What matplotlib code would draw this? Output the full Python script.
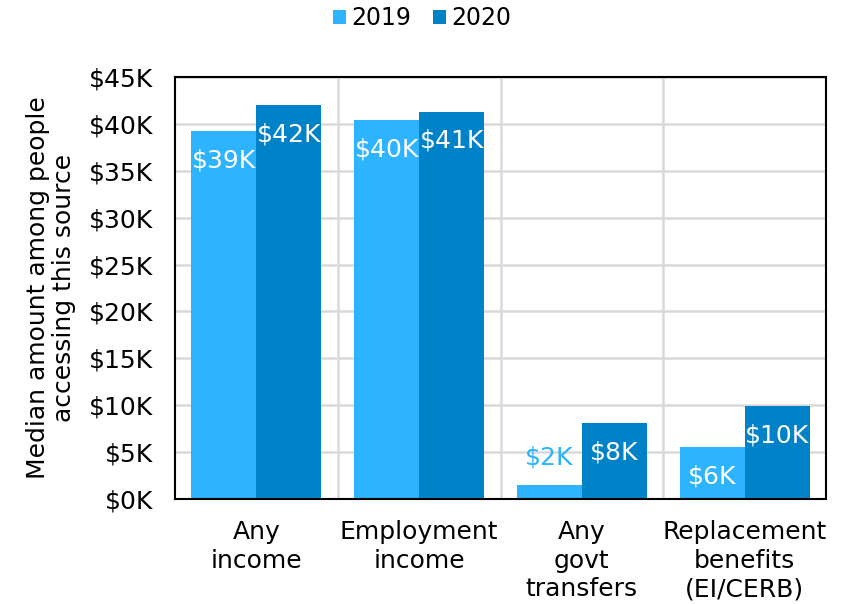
import matplotlib
matplotlib.use("Agg")
import matplotlib.pyplot as plt
import numpy as np
from matplotlib.ticker import FuncFormatter, FixedLocator

categories = ["Any\nincome", "Employment\nincome", "Any\ngovt\ntransfers", "Replacement\nbenefits\n(EI/CERB)"]
series_names = ["2019", "2020"]
values_2019 = [39.2, 40.4, 1.5, 5.5]
values_2020 = [42.0, 41.3, 8.1, 9.9]
labels_2019 = ["$39K", "$40K", "$2K", "$6K"]
labels_2020 = ["$42K", "$41K", "$8K", "$10K"]
y_ticks = [0, 5, 10, 15, 20, 25, 30, 35, 40, 45]

c19 = "#2DB3FF"
c20 = "#0082C8"
FS = 18

plt.rcParams['font.family'] = ['DejaVu Sans']

fig = plt.figure(figsize=(8.44, 6.04), dpi=100)
ax = fig.add_axes([175/844, 1 - 499/604, (826-175)/844, (499-77)/604])

x = np.arange(len(categories))
w = 0.4
b1 = ax.bar(x - w/2, values_2019, w, color=c19, label=series_names[0], zorder=3)
b2 = ax.bar(x + w/2, values_2020, w, color=c20, label=series_names[1], zorder=3)

for bars, labs, col in [(b1, labels_2019, c19), (b2, labels_2020, c20)]:
    for r, lab in zip(bars, labs):
        h = r.get_height()
        cx = r.get_x() + r.get_width()/2
        if h < 3:
            ax.annotate(lab, (cx, h), xytext=(0, 20), textcoords="offset points",
                        ha="center", va="center", color=col, fontsize=FS, zorder=4)
        else:
            ax.annotate(lab, (cx, h), xytext=(0, -21), textcoords="offset points",
                        ha="center", va="center", color="white", fontsize=FS, zorder=4)

ax.set_xlim(-0.5, len(categories) - 0.5)
ax.set_ylim(0, 45)
ax.set_yticks(y_ticks)
ax.yaxis.set_major_formatter(FuncFormatter(lambda v, p: f"${int(v)}K"))
ax.set_xticks(x)
ax.set_xticklabels(categories, fontsize=FS, linespacing=1.25)
ax.xaxis.set_minor_locator(FixedLocator([0.5, 1.5, 2.5]))
ax.tick_params(axis='y', labelsize=FS, length=0, pad=16)
ax.tick_params(axis='x', which='both', length=0, pad=15)
ax.grid(axis='y', which='major', color='#d9d9d9', linewidth=1.8, zorder=0)
ax.grid(axis='x', which='minor', color='#d9d9d9', linewidth=1.8, zorder=0)
ax.grid(axis='x', which='major', visible=False)
for s in ax.spines.values():
    s.set_color('black')
    s.set_linewidth(1.5)
    s.set_zorder(5)

ax.set_ylabel("Median amount among people\naccessing this source", fontsize=FS, labelpad=9, linespacing=1.1)

fig.legend(handles=[b1, b2], labels=series_names, loc='upper center', bbox_to_anchor=(0.5, 1.025),
           ncol=2, frameon=False, fontsize=17, handlelength=0.55, handleheight=0.55,
           handletextpad=0.25, columnspacing=0.9)

fig.savefig("out.png", dpi=100)
